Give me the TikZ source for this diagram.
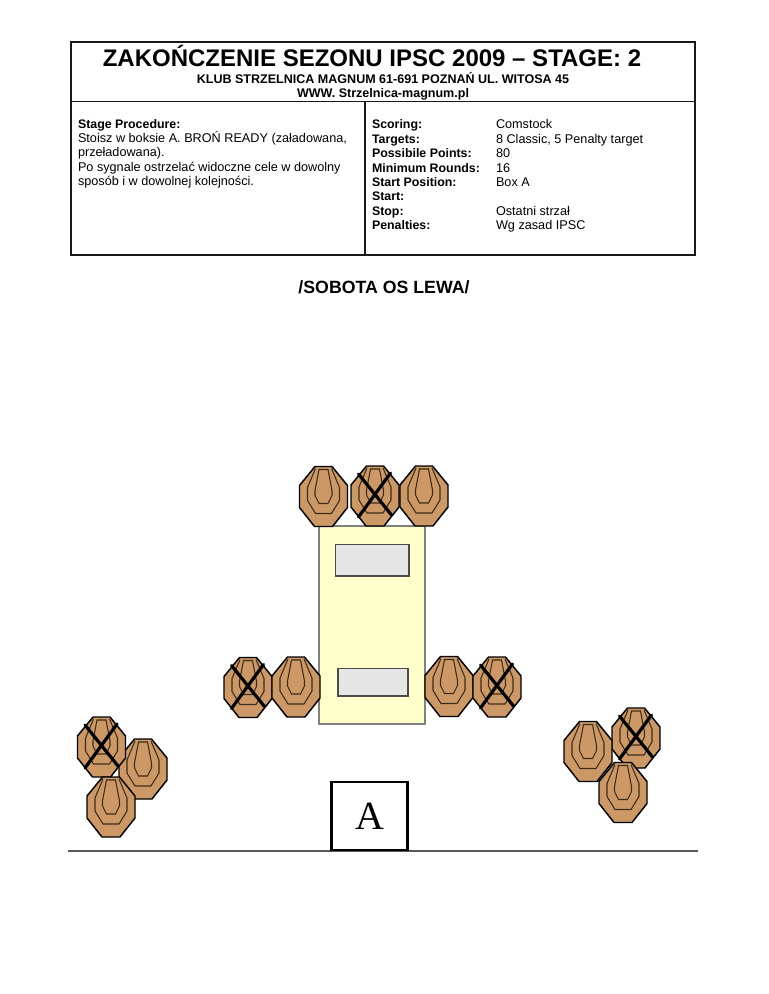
\documentclass[tikz,border=0pt]{standalone}
\usepackage{fontspec}
\setmainfont{Liberation Sans}
\newfontfamily\serifA{Liberation Serif}
\definecolor{tan}{HTML}{CC9966}
\definecolor{pale}{HTML}{FFFFCC}
\definecolor{plate}{HTML}{E6E6E6}
\definecolor{inner}{HTML}{3D2C18}
\tikzset{
  x=0.75pt,y=-0.75pt,
  lbl/.style={inner sep=0pt,outer sep=0pt,font=\fontsize{9.5pt}{11pt}\selectfont,anchor=base west},
  blbl/.style={lbl,font=\fontsize{9.28pt}{11pt}\selectfont\bfseries},
  frame/.style={draw=black!90,line width=1.25pt},
  pics/shooter/.style={code={
    \draw[fill=tan,draw=black,line width=1.1pt,line join=round] (-8.5,-30)--(8.5,-30)--(24,-11)--(24,11)--(9,30)--(-9,30)--(-24,11)--(-24,-11)--cycle;
    \draw[draw=inner,line width=.8pt] (-8,-28)--(-16,-9)--(-16,4)--(-8,17)--(8,17)--(16,4)--(16,-9)--(8,-28);
    \draw[draw=inner,line width=.8pt] (-4.5,-27)--(4.5,-27)--(8.5,-6)--(8.5,-1)--(4.5,7)--(-4.5,7)--(-8.5,-1)--(-8.5,-6)--cycle;
  }},
  pics/crossed/.style={code={
    \pic {shooter};
    \draw[black,line width=2.4pt,line cap=round] (-16.5,-22)--(16.5,19);
    \draw[black,line width=2.4pt,line cap=round] (15.5,-23)--(-16.5,21);
  }}
}
\begin{document}
\begin{tikzpicture}
\useasboundingbox (0,0) rectangle (768,994);
% header table
\draw[frame] (71,42) rectangle (695,255);
\draw[frame,line width=1pt] (71,101.5)--(695,101.5);
\draw[frame,line width=1pt] (365,101.5)--(365,255);
\node[inner sep=0pt,font=\fontsize{18pt}{20pt}\selectfont\bfseries,anchor=base] (title) at (372,67) {ZAKOŃCZENIE SEZONU IPSC 2009 – STAGE: 2};
\node[inner sep=0pt,font=\fontsize{9.4pt}{11pt}\selectfont\bfseries,anchor=base] (club) at (383,84) {KLUB STRZELNICA MAGNUM 61-691 POZNAŃ UL. WITOSA 45};
\node[inner sep=0pt,font=\fontsize{9.4pt}{11pt}\selectfont\bfseries,anchor=base] (www) at (383,98) {WWW. Strzelnica-magnum.pl};
\node[blbl] (sp) at (78,129) {Stage Procedure:};
\node[lbl] (l1) at (78,143) {Stoisz w boksie A. BROŃ READY (załadowana,};
\node[lbl] (l2) at (78,157) {przeładowana).};
\node[lbl] (l3) at (78,171.5) {Po sygnale ostrzelać widoczne cele w dowolny};
\node[lbl] (l4) at (78,185.5) {sposób i w dowolnej kolejności.};
\node[blbl] (k1) at (372,129) {Scoring:};
\node[blbl] (k2) at (372,143.4) {Targets:};
\node[blbl] (k3) at (372,157.8) {Possibile Points:};
\node[blbl] (k4) at (372,172.2) {Minimum Rounds:};
\node[blbl] (k5) at (372,186.6) {Start Position:};
\node[blbl] (k6) at (372,201) {Start:};
\node[blbl] (k7) at (372,215.4) {Stop:};
\node[blbl] (k8) at (372,229.8) {Penalties:};
\node[lbl] (v1) at (496,129) {Comstock};
\node[lbl] (v2) at (496,143.4) {8 Classic, 5 Penalty target};
\node[lbl] (v3) at (496,157.8) {80};
\node[lbl] (v4) at (496,172.2) {16};
\node[lbl] (v5) at (496,186.6) {Box A};
\node[lbl] (v7) at (496,215.4) {Ostatni strzał};
\node[lbl] (v8) at (496,229.8) {Wg zasad IPSC};
\node[inner sep=0pt,font=\fontsize{13.3pt}{15pt}\selectfont\bfseries,anchor=base] (sobota) at (384,294) {/SOBOTA OS LEWA/};
% wall and plates
\draw[fill=pale,draw=black!50,line width=.8pt] (319,526)--(425,526)--(425,724)--(319,724)--cycle;
\draw[fill=plate,draw=black!70,line width=.8pt] (335.5,544.5) rectangle (409,576);
\draw[fill=plate,draw=black!70,line width=.8pt] (338,668.5) rectangle (408,696);
% ground and box
\draw[draw=black!65,line width=1pt] (68,851)--(698,851);
\node[draw=black,line width=1.7pt,fill=white,minimum width=57pt,minimum height=51.5pt,inner sep=0pt,font=\serifA\fontsize{30pt}{32pt}\selectfont] (boxA) at (369.5,816) {A};
% targets
\pic at (323.5,496.5) {shooter};
\pic at (375,496) {crossed};
\pic at (424,496) {shooter};
\pic at (248,687.5) {crossed};
\pic at (296,687) {shooter};
\pic at (449,686.5) {shooter};
\pic at (497,687) {crossed};
\pic at (143,769) {shooter};
\pic at (101.5,747) {crossed};
\pic at (111,807) {shooter};
\pic at (636,738) {crossed};
\pic at (588,751.5) {shooter};
\pic at (623,792.5) {shooter};
\end{tikzpicture}
\end{document}
